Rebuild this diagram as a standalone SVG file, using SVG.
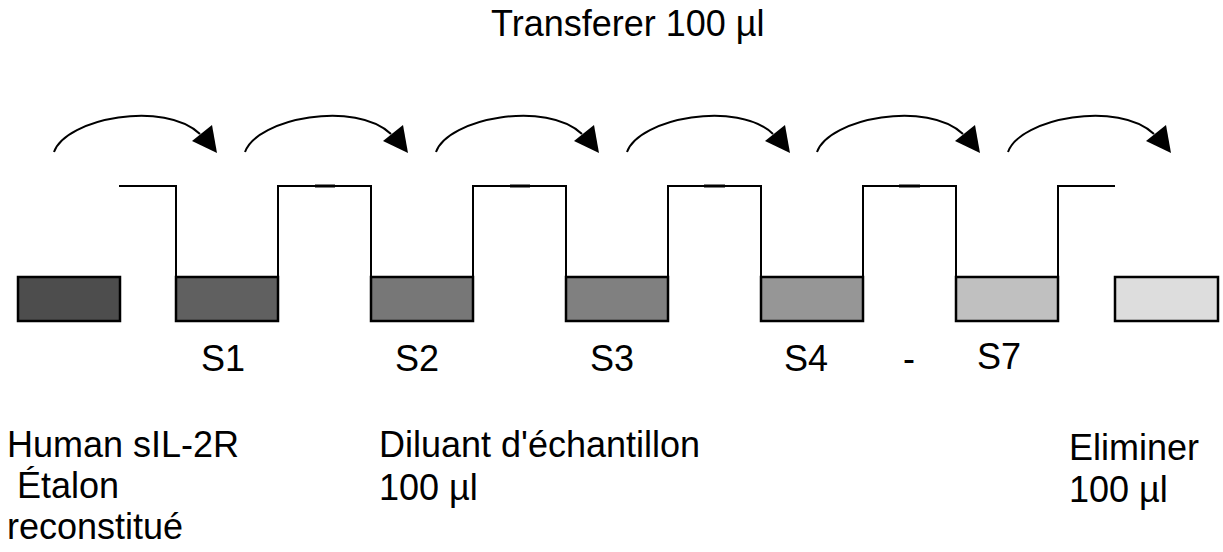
<svg xmlns="http://www.w3.org/2000/svg" width="1223" height="552" viewBox="0 0 1223 552">
<style>
text{font-family:"Liberation Sans",Arial,sans-serif;font-size:36px;fill:#000}
.tube{stroke:#000;stroke-width:2.5}
.wire{fill:none;stroke:#000;stroke-width:2}
.arc{fill:none;stroke:#000;stroke-width:2}
.tick{stroke:#000;stroke-width:3}
</style>
<defs>
<g id="hop"><path class="arc" d="M0 0 C12 -34 111 -52 146 -18"/><polygon points="138,-11 158,-27 163,1" fill="#000"/></g>
</defs>
<rect width="1223" height="552" fill="#fff"/>
<g id="title"><text x="491" y="36">Transferer 100 µl</text></g>
<g id="connectors">
<use href="#hop" x="54" y="152"/>
<use href="#hop" x="245" y="152"/>
<use href="#hop" x="436" y="152"/>
<use href="#hop" x="627" y="152"/>
<use href="#hop" x="817" y="152"/>
<use href="#hop" x="1008" y="152"/>
<path class="wire" d="M119 186 H176 V277 M278 277 V186 H371 V277 M473 277 V186 H566 V277 M668 277 V186 H761 V277 M863 277 V186 H956 V277 M1058 277 V186 H1115"/>
<line class="tick" x1="315" y1="186" x2="335" y2="186"/>
<line class="tick" x1="510" y1="186" x2="530" y2="186"/>
<line class="tick" x1="704" y1="186" x2="725" y2="186"/>
<line class="tick" x1="899" y1="186" x2="920" y2="186"/>
</g>
<g id="std"><rect class="tube" x="18" y="277" width="102" height="44" fill="#4d4d4d"/></g>
<g id="s1"><rect class="tube" x="176" y="277" width="102" height="44" fill="#606060"/><text x="201" y="371">S1</text></g>
<g id="s2"><rect class="tube" x="371" y="277" width="102" height="44" fill="#777777"/><text x="395" y="371">S2</text></g>
<g id="s3"><rect class="tube" x="566" y="277" width="102" height="44" fill="#808080"/><text x="590" y="371">S3</text></g>
<g id="s4"><rect class="tube" x="761" y="277" width="102" height="44" fill="#969696"/><text x="784" y="371">S4</text></g>
<g id="dash"><text x="903" y="371">-</text></g>
<g id="s7"><rect class="tube" x="956" y="277" width="102" height="44" fill="#c0c0c0"/><text x="977" y="369">S7</text></g>
<g id="waste"><rect class="tube" x="1115" y="277" width="103" height="44" fill="#dddddd"/></g>
<g id="label-std"><text x="7" y="457">Human sIL-2R</text><text x="7" y="498" xml:space="preserve"> Étalon</text><text x="7" y="539">reconstitué</text></g>
<g id="label-diluent"><text x="379" y="457">Diluant d'échantillon</text><text x="379" y="500">100 µl</text></g>
<g id="label-waste"><text x="1069" y="460">Eliminer</text><text x="1069" y="502">100 µl</text></g>
</svg>
